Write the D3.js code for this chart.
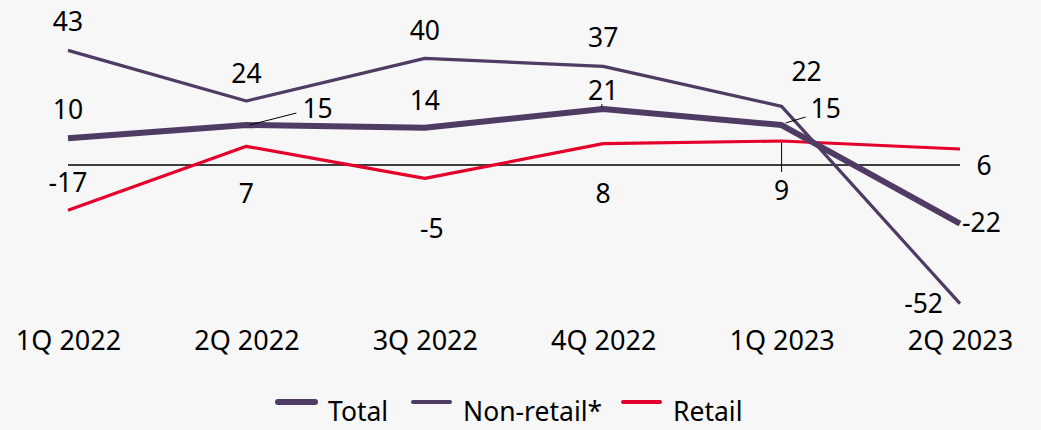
<!DOCTYPE html>
<html>
<head>
<meta charset="utf-8">
<script src="https://cdn.jsdelivr.net/npm/d3@7"></script>
<style>
  html, body { margin: 0; padding: 0; background: #f7f7f7; }
  svg { display: block; font-family: "Noto Sans", "Open Sans", sans-serif; }
</style>
</head>
<body>
<svg id="chart" width="1041" height="430"></svg>
<script>
// Quarterly values
const quarters = ["1Q 2022", "2Q 2022", "3Q 2022", "4Q 2022", "1Q 2023", "2Q 2023"];
const total = [10, 15, 14, 21, 15, -22];
const nonRetail = [43, 24, 40, 37, 22, -52];
const retail = [-17, 7, -5, 8, 9, 6];

// Label placement per point: [dx, dy, anchor, leader]
const totalLabelPos = [
  [0, -19, "middle"], [56, -7, "start", [3, 0, 50, -12]], [0, -18, "middle"],
  [0, -9, "middle", [-2, -2, -1, -5]], [29, -7, "start", [4, -2, 24, -8]], [2, 8, "start"]
];
const nonRetailLabelPos = [
  [0, -19, "middle"], [0, -18, "middle"], [0, -18, "middle"],
  [0, -19, "middle"], [25, -25, "middle"], [-17, 9, "end"]
];
const retailLabelPos = [
  [0, -18, "middle"], [0, 57, "middle"], [7, 60, "middle"],
  [0, 59, "middle"], [0, 59, "middle", [0, 2, 0, 31]], [24, 26, "middle"]
];

const purple = "#4f3b63";
const red = "#e4002b";
const fontSize = 26.5;

const series = [
  { name: "Total", values: total, color: purple, width: 6, labels: totalLabelPos },
  { name: "Non-retail*", values: nonRetail, color: purple, width: 3.2, labels: nonRetailLabelPos },
  { name: "Retail", values: retail, color: red, width: 3.2, labels: retailLabelPos }
];

const svg = d3.select("#chart");

const x = d3.scalePoint().domain(quarters).range([68, 960]);
const y = d3.scaleLinear().domain([-60, 50]).range([325, 31.67]);

// Zero baseline
svg.append("line")
  .attr("x1", x(quarters[0])).attr("x2", x(quarters[quarters.length - 1]))
  .attr("y1", y(0)).attr("y2", y(0))
  .attr("stroke", "#000").attr("stroke-width", 1.3);

// Category axis labels
const xAxis = d3.axisBottom(x).tickSize(0).tickPadding(0);
const gx = svg.append("g").attr("transform", "translate(0,331)").call(xAxis);
gx.select(".domain").remove();
gx.selectAll("text")
  .attr("font-size", 27)
  .attr("font-family", "\"Noto Sans\", sans-serif")
  .attr("fill", "#000")
  .attr("dy", "0.71em");

const line = d3.line()
  .x((d, i) => x(quarters[i]))
  .y(d => y(d));

// Draw lines: retail first, then non-retail, then total on top
[series[2], series[1], series[0]].forEach(s => {
  svg.append("path")
    .datum(s.values)
    .attr("fill", "none")
    .attr("stroke", s.color)
    .attr("stroke-width", s.width)
    .attr("stroke-linejoin", "round")
    .attr("d", line);
});

// Value labels and leader lines
series.forEach(s => {
  s.values.forEach((v, i) => {
    const px = x(quarters[i]);
    const py = y(v);
    const [dx, dy, anchor, leader] = s.labels[i];
    if (leader) {
      svg.append("line")
        .attr("x1", px + leader[0]).attr("y1", py + leader[1])
        .attr("x2", px + leader[2]).attr("y2", py + leader[3])
        .attr("stroke", "#000").attr("stroke-width", 1);
    }
    svg.append("text")
      .attr("x", px + dx)
      .attr("y", py + dy)
      .attr("text-anchor", anchor)
      .attr("font-size", fontSize)
      .attr("fill", "#000")
      .text(v);
  });
});

// Legend
const legendItems = [
  { s: series[0], x: 278 },
  { s: series[1], x: 413 },
  { s: series[2], x: 623 }
];
const legend = svg.append("g");
legendItems.forEach(item => {
  legend.append("line")
    .attr("x1", item.x).attr("x2", item.x + 37)
    .attr("y1", 402).attr("y2", 402)
    .attr("stroke", item.s.color)
    .attr("stroke-width", item.s.name === "Total" ? 6 : 4)
    .attr("stroke-linecap", "round");
  legend.append("text")
    .attr("x", item.x + 50)
    .attr("y", 421)
    .attr("font-size", fontSize)
    .attr("fill", "#000")
    .text(item.s.name);
});
</script>
</body>
</html>
